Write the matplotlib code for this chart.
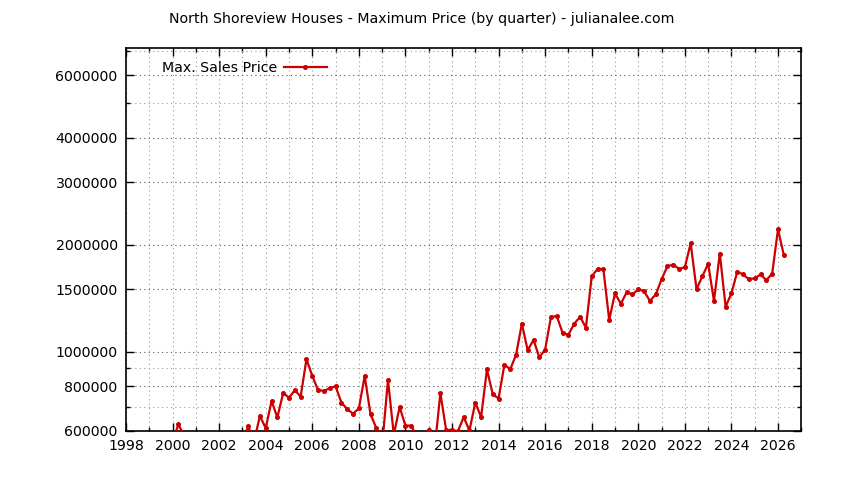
import numpy as np
import pandas as pd
import matplotlib
matplotlib.use("Agg")
import matplotlib.pyplot as plt
from matplotlib.ticker import FixedLocator, FuncFormatter, NullFormatter

### data: max sales price per quarter, first quarter = 1998Q1 ###
first_quarter = "1998Q1"
max_price = [
    480000, 510000, 470000, 520000,      # 1998
    500000, 540000, 530000, 560000,      # 1999
    560000, 625000, 580000, 550000,      # 2000
    530000, 570000, 540000, 560000,      # 2001
    520000, 580000, 550000, 570000,      # 2002
    560000, 617000, 560000, 660000,      # 2003
    610000, 727000, 654000, 766000,      # 2004
    743000, 780000, 748000, 954000,      # 2005
    855000, 780000, 777000, 790000,      # 2006
    800000, 720000, 690000, 670000,      # 2007
    693000, 855000, 668000, 610000,      # 2008
    545000, 834000, 585000, 700000,      # 2009
    620000, 620000, 575000, 565000,      # 2010
    604000, 530000, 766000, 601000,      # 2011
    604000, 597000, 655000, 601000,      # 2012
    720000, 655000, 892000, 760000,      # 2013
    739000, 920000, 893000, 980000,      # 2014
    1200000, 1010000, 1080000, 965000,   # 2015
    1015000, 1254000, 1260000, 1130000,  # 2016
    1118000, 1200000, 1254000, 1170000,  # 2017
    1630000, 1710000, 1710000, 1230000,  # 2018
    1460000, 1365000, 1470000, 1450000,  # 2019
    1500000, 1480000, 1390000, 1450000,  # 2020
    1600000, 1740000, 1760000, 1710000,  # 2021
    1730000, 2020000, 1500000, 1630000,  # 2022
    1770000, 1390000, 1890000, 1340000,  # 2023
    1460000, 1680000, 1650000, 1600000,  # 2024
    1610000, 1650000, 1590000, 1660000,  # 2025
    2210000, 1870000,                    # 2026
]
y_major = [600000, 800000, 1000000, 1500000, 2000000, 3000000, 4000000, 6000000]
y_minor = [700000, 900000, 5000000, 7000000]
x_major = list(range(1998, 2027, 2))
x_minor = list(range(1998, 2028))

periods = pd.period_range(first_quarter, periods=len(max_price), freq="Q")
xq = periods.year + (periods.quarter - 1) / 4.0

plt.rcParams['font.family'] = ['DejaVu Sans']
fs = 10.2
fig = plt.figure(figsize=(8.44, 4.8), dpi=100)
ax = fig.add_axes([0.1493, 0.1027, 0.9494 - 0.1493, 0.8994 - 0.1027])

ax.plot(xq, max_price, color="#cc0000", lw=1.6, marker="o", ms=2.6,
        label="Max. Sales Price", zorder=3)

ax.set_yscale("log")
ax.set_xlim(1998, 2027)
ax.set_ylim(600000, 7140000)

ax.yaxis.set_major_locator(FixedLocator(y_major))
ax.yaxis.set_minor_locator(FixedLocator(y_minor))
ax.yaxis.set_major_formatter(FuncFormatter(lambda v, p: f"{v:.0f}"))
ax.yaxis.set_minor_formatter(NullFormatter())
ax.xaxis.set_major_locator(FixedLocator(x_major))
ax.xaxis.set_minor_locator(FixedLocator(x_minor))

ax.tick_params(which="both", direction="in", top=True, right=True,
               labelsize=fs, colors="black")
ax.tick_params(which="major", length=5.8, width=1, pad=6)
ax.tick_params(which="minor", length=2.9, width=1)

ax.grid(which="major", axis="y", color="0.35", ls=(0, (1, 3)), lw=0.8)
ax.grid(which="minor", axis="y", color="0.6", ls=(0, (1, 3)), lw=0.8)
ax.grid(which="both", axis="x", color="0.6", ls=(0, (1, 3)), lw=0.8)
ax.set_axisbelow(True)
for s in ax.spines.values():
    s.set_linewidth(1.2)

ax.legend(loc="upper left", frameon=False, markerfirst=False, fontsize=fs,
          handlelength=3, handletextpad=0.45,
          bbox_to_anchor=(0.035, 1.0), borderaxespad=0.5)

fig.text(0.5, 1 - 19 / 480, "North Shoreview Houses - Maximum Price (by quarter) - julianalee.com",
         ha="center", va="center", fontsize=fs)

fig.savefig("out.png", dpi=100)
